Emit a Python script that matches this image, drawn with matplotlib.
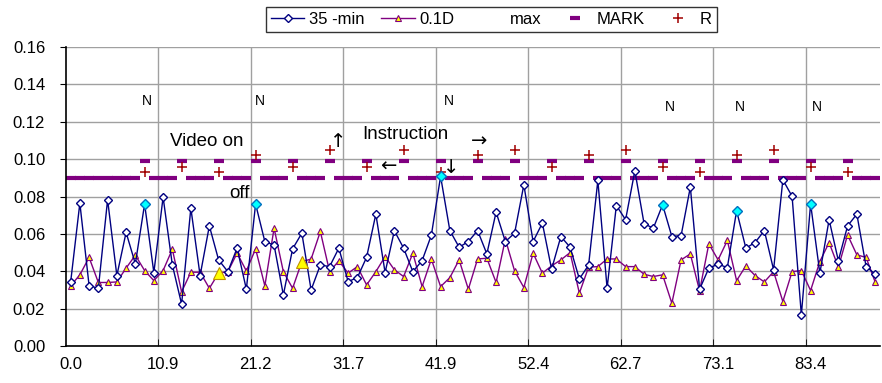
import numpy as np
import matplotlib
matplotlib.use("Agg")
import matplotlib.pyplot as plt

plt.rcParams['font.family'] = ['Liberation Sans', 'DejaVu Sans']

# category labels shown on the x axis (every 10th point)
tick_labels = ["0.0", "10.9", "21.2", "31.7", "41.9", "52.4", "62.7", "73.1", "83.4"]

# 35 -min series
min35 = [0.0340, 0.0765, 0.0323, 0.0309, 0.0783, 0.0377, 0.0608, 0.0440, 0.0760, 0.0393,
         0.0797, 0.0434, 0.0224, 0.0738, 0.0377, 0.0643, 0.0461, 0.0398, 0.0524, 0.0304,
         0.0760, 0.0559, 0.0540, 0.0273, 0.0520, 0.0604, 0.0300, 0.0434, 0.0425, 0.0524,
         0.0345, 0.0366, 0.0475, 0.0706, 0.0393, 0.0617, 0.0524, 0.0398, 0.0457, 0.0593,
         0.0908, 0.0618, 0.0529, 0.0559, 0.0618, 0.0493, 0.0717, 0.0559, 0.0604, 0.0863,
         0.0559, 0.0658, 0.0411, 0.0586, 0.0529, 0.0359, 0.0433, 0.0886, 0.0309, 0.0752,
         0.0676, 0.0938, 0.0654, 0.0631, 0.0756, 0.0586, 0.0591, 0.0851, 0.0304, 0.0417,
         0.0438, 0.0420, 0.0724, 0.0524, 0.0554, 0.0618, 0.0408, 0.0890, 0.0801, 0.0166,
         0.0761, 0.0390, 0.0676, 0.0457, 0.0643, 0.0706, 0.0425, 0.0384]

# 0.1D series
d01 = [0.0322, 0.0381, 0.0474, 0.0340, 0.0340, 0.0343, 0.0417, 0.0486, 0.0404, 0.0350,
       0.0404, 0.0518, 0.0290, 0.0395, 0.0395, 0.0309, 0.0390, 0.0398, 0.0497, 0.0402,
       0.0520, 0.0322, 0.0631, 0.0398, 0.0309, 0.0452, 0.0465, 0.0613, 0.0398, 0.0456,
       0.0390, 0.0425, 0.0327, 0.0398, 0.0479, 0.0408, 0.0372, 0.0497, 0.0318, 0.0465,
       0.0318, 0.0366, 0.0461, 0.0304, 0.0466, 0.0470, 0.0340, 0.0572, 0.0402, 0.0313,
       0.0497, 0.0390, 0.0429, 0.0461, 0.0500, 0.0283, 0.0422, 0.0425, 0.0466, 0.0466,
       0.0425, 0.0425, 0.0384, 0.0372, 0.0381, 0.0229, 0.0461, 0.0493, 0.0295, 0.0547,
       0.0461, 0.0565, 0.0350, 0.0429, 0.0377, 0.0343, 0.0398, 0.0238, 0.0398, 0.0404,
       0.0297, 0.0452, 0.0554, 0.0422, 0.0595, 0.0488, 0.0474, 0.0340]

# MARK series
mark = [0.090, 0.090, 0.090, 0.090, 0.090, 0.090, 0.090, 0.090, 0.099, 0.090,
        0.090, 0.090, 0.099, 0.090, 0.090, 0.090, 0.099, 0.090, 0.090, 0.090,
        0.099, 0.090, 0.090, 0.090, 0.099, 0.090, 0.090, 0.090, 0.099, 0.090,
        0.090, 0.090, 0.099, 0.090, 0.090, 0.090, 0.099, 0.090, 0.090, 0.090,
        0.099, 0.090, 0.090, 0.090, 0.099, 0.090, 0.090, 0.090, 0.099, 0.090,
        0.090, 0.090, 0.099, 0.090, 0.090, 0.090, 0.099, 0.090, 0.090, 0.090,
        0.099, 0.090, 0.090, 0.090, 0.099, 0.090, 0.090, 0.090, 0.099, 0.090,
        0.090, 0.090, 0.099, 0.090, 0.090, 0.090, 0.099, 0.090, 0.090, 0.090,
        0.099, 0.090, 0.090, 0.090, 0.099, 0.090, 0.090, 0.090]

# R series (only some points)
r_idx = [8, 12, 16, 20, 24, 28, 32, 36, 40, 44, 48, 52, 56, 60, 64, 68, 72, 76, 80, 84]
r_vals = [0.093, 0.096, 0.093, 0.102, 0.096, 0.105, 0.096, 0.105, 0.093, 0.102,
          0.105, 0.096, 0.102, 0.105, 0.096, 0.093, 0.102, 0.105, 0.096, 0.093]

# highlighted points
max_idx = [8, 20, 40, 64, 72, 80]
big_tri_idx = [16, 25]

# "N" labels
n_x = [8.25, 20.5, 40.9, 64.8, 72.4, 80.7]
n_y = [0.131, 0.131, 0.131, 0.128, 0.128, 0.128]

x = np.arange(len(min35))
min35 = np.array(min35)
d01 = np.array(d01)

fig = plt.figure(figsize=(8.82, 3.83), dpi=100)
ax = fig.add_axes([0.0748, 0.0966, 0.9229, 0.7804])

navy = '#000080'
purple = '#800080'

ax.plot(x, min35, color=navy, lw=1, marker='D', ms=3.6, mfc='white', mec=navy, mew=1,
        label='35 -min', zorder=4)
ax.plot(x, d01, color=purple, lw=1, marker='^', ms=4, mfc='#FFFF00', mec=purple, mew=0.8,
        label='0.1D', zorder=3)
ax.plot([], [], ls='none', label='max')
ax.plot(x, mark, ls='none', marker='_', ms=7.2, mew=3, color=purple, label='MARK', zorder=2)
ax.plot(r_idx, r_vals, ls='none', marker='+', ms=7.5, mew=1.1, color='#A00000', label='R', zorder=5)

# special point formatting
ax.plot(max_idx, min35[max_idx], ls='none', marker='D', ms=5.4, mfc='#00FFFF', mec='#0070C0',
        mew=1, zorder=6)
ax.plot(big_tri_idx, d01[big_tri_idx], ls='none', marker='^', ms=8, mfc='#FFFF00', mec='#C09000',
        mew=0.8, zorder=6)

for xx, yy in zip(n_x, n_y):
    ax.text(xx, yy, 'N', fontsize=10, ha='center', va='center')

ax.text(14.7, 0.1095, 'Video on', fontsize=13.5, ha='center', va='center')
ax.text(18.3, 0.0819, 'off', fontsize=13.5, ha='center', va='center')
ax.text(36.2, 0.1131, 'Instruction', fontsize=13.5, ha='center', va='center')
ax.text(28.9, 0.1095, '↑', fontsize=14, ha='center', va='center', family='DejaVu Sans')
ax.text(44.2, 0.1095, '→', fontsize=14, ha='center', va='center', family='DejaVu Sans')
ax.text(34.3, 0.0961, '←', fontsize=14, ha='center', va='center', family='DejaVu Sans')
ax.text(41.1, 0.0953, '↓', fontsize=14, ha='center', va='center', family='DejaVu Sans')

ax.set_xlim(-0.5, len(x) - 0.5)
ax.set_ylim(0, 0.16)
ax.set_yticks(np.arange(0, 0.161, 0.02))
ax.yaxis.set_major_formatter(matplotlib.ticker.FormatStrFormatter('%.2f'))
ax.set_xticks(np.arange(0, len(x), 10))
ax.set_xticklabels(tick_labels)
ax.set_xticks(np.arange(9.5, len(x), 10), minor=True)
ax.tick_params(axis='x', which='major', length=0, labelsize=12, pad=8)
ax.tick_params(axis='x', which='minor', direction='in', length=5, color='black')
ax.tick_params(axis='y', length=4, labelsize=12, pad=11)
ax.grid(axis='y', which='major', color='#A0A0A0', lw=1)
ax.grid(axis='x', which='minor', color='#A0A0A0', lw=1)
ax.set_axisbelow(True)
for s in ['top', 'right']:
    ax.spines[s].set_visible(False)
ax.spines['left'].set_linewidth(1.2)
ax.spines['bottom'].set_linewidth(1.2)

leg = fig.legend(loc='center', bbox_to_anchor=(0.557, 0.950), ncol=5, fontsize=12,
                 frameon=True, fancybox=False, edgecolor='black', handlelength=2.0,
                 columnspacing=1.0, handletextpad=0.3, borderpad=0.3)
leg.get_frame().set_linewidth(1)

fig.savefig('out.png', dpi=100)
